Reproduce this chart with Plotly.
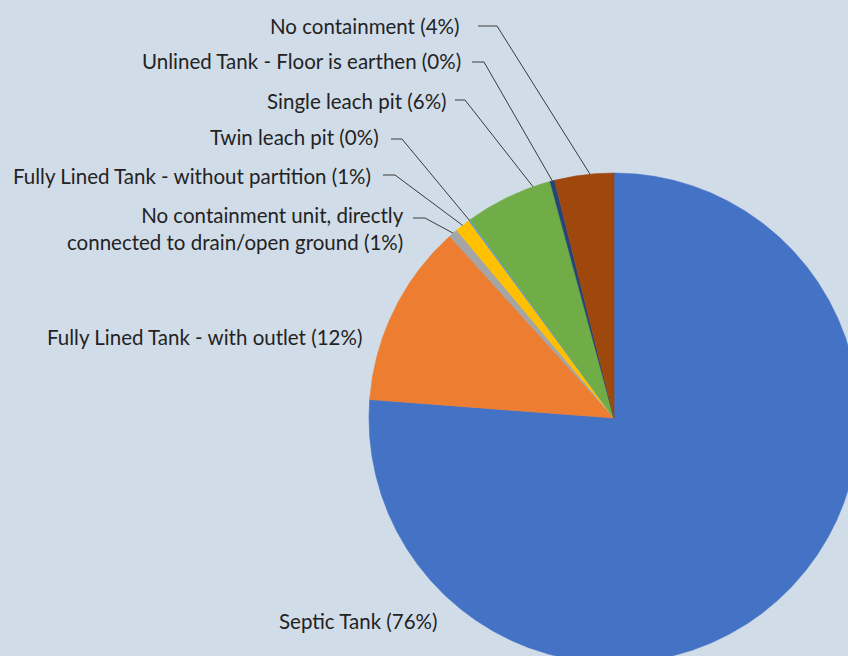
import math
import plotly.graph_objects as go

# Containment type shares (%), listed clockwise from 12 o'clock
categories = [
    "Septic Tank",
    "Fully Lined Tank - with outlet",
    "No containment unit, directly<br>connected to drain/open ground",
    "Fully Lined Tank - without partition",
    "Twin leach pit",
    "Single leach pit",
    "Unlined Tank - Floor is earthen",
    "No containment",
]
shares = [76.2, 12.1, 0.6, 1.0, 0.1, 5.8, 0.3, 3.9]
colors = ["#4472C4", "#ED7D31", "#A5A5A5", "#FFC000",
          "#5B9BD5", "#70AD47", "#264478", "#9E480E"]

# Page geometry (pixel-based axes), pie centre and radius
W, H = 848, 656
CX, CY, R = 614, 418, 245
BG = "#D1DCE9"
TEXT = "#232323"

# Label placement: (x, y, xanchor); leader: (start x, elbow x, y) or None
label_pos = [
    (277, 621, "left"),
    (364, 337, "right"),
    (406, 228, "right"),
    (373, 176, "right"),
    (381, 137, "right"),
    (449, 101, "right"),
    (463, 61, "right"),
    (461, 26, "right"),
]
leaders = [None, None, (413, 425, 218), (383, 395, 175), (391, 402, 139),
           (455, 465, 100), (472, 484, 62), (478, 497, 26)]
# where along each slice's arc the leader touches (0 = start, 1 = end)
leader_frac = [0.5, 0.5, 0.5, 0.5, 0.5, 0.8, 0.5, 0.6]


def arc_point(deg, r=R):
    a = math.radians(deg)
    return CX + r * math.sin(a), CY - r * math.cos(a)


total = sum(shares)
fig = go.Figure()

start = 0.0
spans = []
for name, v, c in zip(categories, shares, colors):
    sweep = 360.0 * v / total
    end = start + sweep
    n = max(2, int(sweep / 0.25) + 1)
    xs, ys = [CX], [CY]
    for i in range(n + 1):
        px, py = arc_point(start + sweep * i / n)
        xs.append(px)
        ys.append(py)
    xs.append(CX)
    ys.append(CY)
    fig.add_trace(go.Scatter(
        x=xs, y=ys, mode="lines", fill="toself", fillcolor=c,
        line=dict(color=c, width=0.6), hoverinfo="skip", showlegend=False,
    ))
    spans.append((start, end))
    start = end

# Leader lines from label to slice edge
lx, ly = [], []
for ld, (s, e), f in zip(leaders, spans, leader_frac):
    if ld is None:
        continue
    x0, x1, y0 = ld
    px, py = arc_point(s + (e - s) * f)
    lx += [x0, x1, px, None]
    ly += [y0, y0, py, None]
fig.add_trace(go.Scatter(x=lx, y=ly, mode="lines",
                         line=dict(color="#3a3a3a", width=1),
                         hoverinfo="skip", showlegend=False))

for name, v, (x, y, anc) in zip(categories, shares, label_pos):
    pct = round(v / total * 100)
    fig.add_annotation(
        x=x, y=y, xref="x", yref="y", xanchor=anc, yanchor="middle",
        text=f"{name} ({pct}%)", showarrow=False, align="right",
        font=dict(family="Lato", size=20.5, color=TEXT),
    )

fig.update_layout(
    width=W, height=H, margin=dict(l=0, r=0, t=0, b=0),
    paper_bgcolor=BG, plot_bgcolor=BG,
    xaxis=dict(range=[0, W], visible=False, fixedrange=True),
    yaxis=dict(range=[H, 0], visible=False, fixedrange=True),
)
fig.write_html("out.html")
